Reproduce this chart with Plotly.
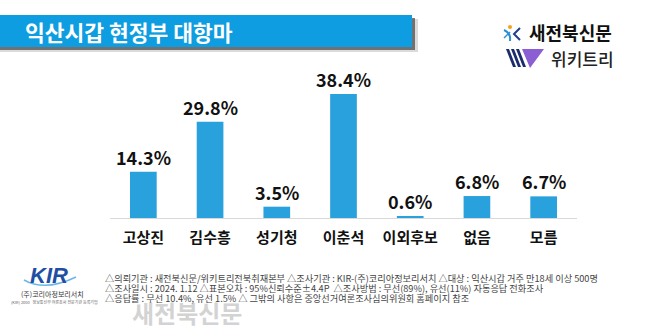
import plotly.graph_objects as go

W, H = 650, 336

categories = ["고상진", "김수흥", "성기청", "이춘석", "이외후보", "없음", "모름"]
values = [14.3, 29.8, 3.5, 38.4, 0.6, 6.8, 6.7]
value_labels = ["14.3%", "29.8%", "3.5%", "38.4%", "0.6%", "6.8%", "6.7%"]

title_text = "익산시갑 현정부 대항마"
footer_lines = [
    "△의뢰기관 : 새전북신문/위키트리전북취재본부 △조사기관 : KIR-(주)코리아정보리서치 △대상 : 익산시갑 거주 만18세 이상 500명",
    "△조사일시 : 2024. 1.12 △표본오차 : 95%신뢰수준±4.4P  △조사방법 : 무선(89%), 유선(11%) 자동응답 전화조사",
    "△응답률 : 무선 10.4%, 유선 1.5% △ 그밖의 사항은 중앙선거여론조사심의위원회 홈페이지 참조",
]

BAR = "#29a1dc"
BANNER = "#0e9de0"
KFONT = "Noto Sans CJK KR"


def px(x):
    return x / W


def py(y):
    return 1 - y / H


fig = go.Figure()
fig.add_trace(go.Bar(x=categories, y=values, marker=dict(color=BAR, line=dict(width=0)),
                     hoverinfo="skip"))

annotations = []
for c, v, t in zip(categories, values, value_labels):
    annotations.append(dict(x=c, y=v, xref="x", yref="y", text=t, showarrow=False,
                            yanchor="middle", yshift=15,
                            font=dict(family=KFONT, size=18, color="#111111", weight="bold")))

# Watermark (drawn first so footer text lies over it)
annotations.append(dict(x=px(130), y=py(312), xref="paper", yref="paper", text="새전북신문",
                        showarrow=False, xanchor="left", yanchor="middle", opacity=0.5,
                        font=dict(family=KFONT, size=24, color="#a8a8a8", weight="bold")))

# Title banner text
annotations.append(dict(x=px(23), y=py(31), xref="paper", yref="paper", text=title_text,
                        showarrow=False, xanchor="left", yanchor="middle",
                        font=dict(family=KFONT, size=21.5, color="white", weight="bold")))
# Logos text
annotations.append(dict(x=px(527), y=py(32), xref="paper", yref="paper", text="새전북신문",
                        showarrow=False, xanchor="left", yanchor="middle",
                        font=dict(family=KFONT, size=18, color="#111111", weight="bold")))
annotations.append(dict(x=px(549), y=py(58), xref="paper", yref="paper", text="위키트리",
                        showarrow=False, xanchor="left", yanchor="middle",
                        font=dict(family=KFONT, size=17, color="#222222", weight=500)))
# KIR logo
annotations.append(dict(x=px(49), y=py(275), xref="paper", yref="paper", text="<i>KIR</i>",
                        showarrow=False, xanchor="center", yanchor="middle",
                        font=dict(family="Liberation Sans", size=22, color="#1f4fa3", weight="bold")))
annotations.append(dict(x=px(53), y=py(294), xref="paper", yref="paper", text="(주)코리아정보리서치",
                        showarrow=False, xanchor="center", yanchor="middle",
                        font=dict(family=KFONT, size=7, color="#333333")))
annotations.append(dict(x=px(54), y=py(302), xref="paper", yref="paper",
                        text="(KIR) 2000   정보통신부 여론조사 전문기관 등록기업",
                        showarrow=False, xanchor="center", yanchor="middle",
                        font=dict(family=KFONT, size=4, color="#666666")))
# Footer
for i, line in enumerate(footer_lines):
    annotations.append(dict(x=px(103), y=py(278 + 10 * i), xref="paper", yref="paper", text=line,
                            showarrow=False, xanchor="left", yanchor="middle",
                            font=dict(family=KFONT, size=9.2, color="#444444")))

shapes = [
    # banner shadow
    dict(type="rect", xref="paper", yref="paper", x0=px(0), x1=px(418), y0=py(52), y1=py(19),
         fillcolor="#999999", opacity=0.35, line=dict(width=0), layer="below"),
    dict(type="rect", xref="paper", yref="paper", x0=px(0), x1=px(415), y0=py(50), y1=py(18),
         fillcolor="#444444", opacity=0.7, line=dict(width=0), layer="below"),
    dict(type="rect", xref="paper", yref="paper", x0=px(0), x1=px(412), y0=py(47), y1=py(15),
         fillcolor=BANNER, line=dict(width=0), layer="below"),
    # 새전북신문 icon
    dict(type="circle", xref="paper", yref="paper", x0=px(508), x1=px(512), y0=py(29), y1=py(25),
         fillcolor="#f5a01a", line=dict(width=0)),
    dict(type="path", xref="paper", yref="paper",
         path=f"M {px(504)},{py(30)} Q {px(511)},{py(33)} {px(510)},{py(41)}",
         line=dict(color="#2a8fd6", width=2)),
    dict(type="path", xref="paper", yref="paper",
         path=f"M {px(504)},{py(38)} L {px(510)},{py(32)}",
         line=dict(color="#2a8fd6", width=1.5)),
    dict(type="path", xref="paper", yref="paper",
         path=f"M {px(520)},{py(28)} L {px(514)},{py(34)} L {px(520)},{py(40)}",
         line=dict(color="#1f3f8f", width=2)),
    # 위키트리 W logo
    dict(type="path", xref="paper", yref="paper",
         path=f"M {px(506)},{py(49)} L {px(509)},{py(49)} L {px(516)},{py(67)} L {px(513)},{py(67)} Z",
         fillcolor="#1c2b6b", line=dict(width=0)),
    dict(type="path", xref="paper", yref="paper",
         path=f"M {px(511)},{py(49)} L {px(514)},{py(49)} L {px(521)},{py(67)} L {px(518)},{py(67)} Z",
         fillcolor="#1c2b6b", line=dict(width=0)),
    dict(type="path", xref="paper", yref="paper",
         path=f"M {px(516)},{py(49)} L {px(519)},{py(49)} L {px(526)},{py(67)} L {px(523)},{py(67)} Z",
         fillcolor="#1c2b6b", line=dict(width=0)),
    dict(type="path", xref="paper", yref="paper",
         path=f"M {px(522)},{py(49)} L {px(544)},{py(49)} L {px(530)},{py(68)} Z",
         fillcolor="#8b5fd3", line=dict(width=0)),
    # KIR swoosh
    dict(type="path", xref="paper", yref="paper",
         path=f"M {px(24)},{py(280)} Q {px(45)},{py(292)} {px(76)},{py(277)}",
         line=dict(color="#6fb6e8", width=1.5)),
]

fig.update_layout(
    width=W, height=H,
    margin=dict(l=0, r=0, t=0, b=0),
    paper_bgcolor="white", plot_bgcolor="white",
    showlegend=False,
    bargap=0.6,
    xaxis=dict(domain=[px(110), px(577)], showline=True, linecolor="#d9d9d9", linewidth=1,
               showgrid=False, zeroline=False, ticks="", ticklabelstandoff=6,
               tickfont=dict(family=KFONT, size=15, color="#111111", weight="bold"),
               fixedrange=True),
    yaxis=dict(domain=[py(218), py(70)], range=[0, 45.83], visible=False, fixedrange=True),
    annotations=annotations,
    shapes=shapes,
)

fig.write_html("out.html", config={"displayModeBar": False})
